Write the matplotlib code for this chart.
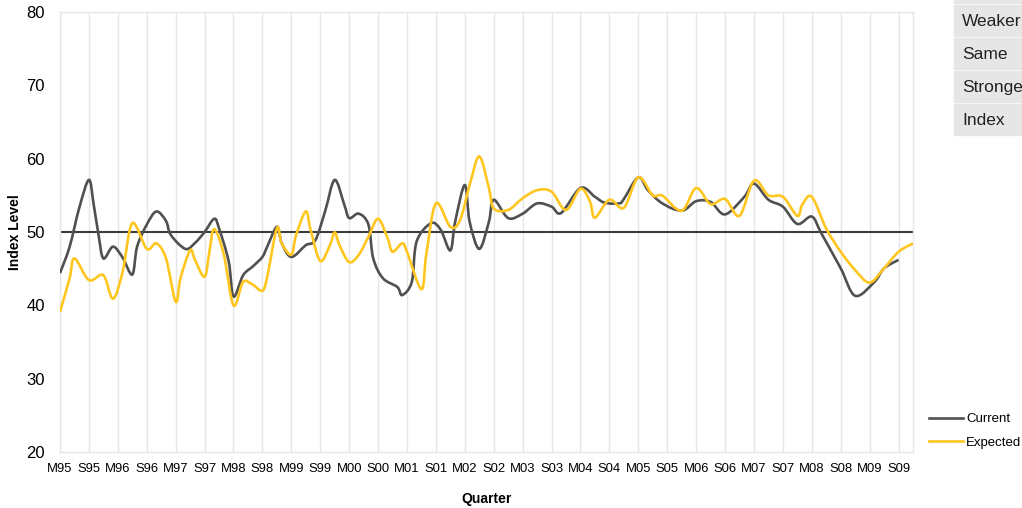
import numpy as np
import matplotlib.pyplot as plt
from matplotlib.path import Path
from matplotlib.patches import PathPatch, Rectangle
from matplotlib.lines import Line2D

# survey months, counted from March 1995
current_month = [0, 2, 4, 6, 7, 8, 9, 11, 13, 15, 16, 18, 20, 22, 23, 26, 28, 30,
                 32, 33, 35, 36, 38, 40, 42, 43, 45, 46, 48, 51, 53, 55, 57, 59,
                 60, 62, 64, 65, 67, 70, 71, 73, 74, 77, 79, 81, 82, 84, 85, 87,
                 89, 90, 93, 96, 99, 102, 104, 108, 111, 113, 116, 117, 120, 122,
                 125, 129, 132, 135, 138, 142, 144, 147, 150, 153, 156, 158, 162,
                 165, 169, 171, 174]
current_value = [44.4, 48.0, 53.3, 57.1, 53.7, 49.6, 46.4, 48.0, 46.5, 44.2, 48.0,
                 51.0, 52.8, 51.5, 49.6, 47.7, 48.5, 50.0, 51.8, 50.5, 46.0, 41.2,
                 44.1, 45.3, 46.6, 48.0, 50.7, 48.5, 46.6, 48.2, 48.9, 52.8, 57.1,
                 53.7, 51.9, 52.5, 51.0, 46.4, 43.7, 42.5, 41.4, 43.2, 48.7, 51.2,
                 50.3, 47.5, 51.4, 56.4, 51.4, 47.7, 51.4, 54.4, 51.9, 52.5, 53.9,
                 53.45, 52.6, 56.0, 54.8, 54.0, 53.9, 54.5, 57.45, 55.7, 53.9, 52.9,
                 54.2, 54.1, 52.4, 54.8, 56.6, 54.4, 53.45, 51.1, 52.1, 49.8, 45.05,
                 41.3, 43.2, 45.05, 46.2]

expected_month = [0, 2, 3, 6, 9, 11, 13, 15, 18, 20, 22, 24, 25, 27, 28, 30, 31, 32,
                  34, 36, 38, 40, 42, 43, 45, 46, 48, 49, 51, 52, 54, 56, 57, 58,
                  60, 62, 64, 66, 68, 69, 71, 72, 75, 76, 78, 81, 83, 85, 87, 89,
                  90, 93, 96, 99, 102, 105, 108, 110, 111, 114, 117, 120, 123, 125,
                  129, 132, 135, 138, 141, 144, 147, 150, 153, 154, 156, 159, 162,
                  165, 168, 171, 174, 177]
expected_value = [39.1, 43.7, 46.4, 43.45, 44.1, 40.9, 44.6, 51.2, 47.7, 48.45, 46.4,
                  40.5, 43.7, 47.5, 46.2, 43.9, 47.3, 50.4, 46.9, 40.0, 43.2, 42.8,
                  42.0, 43.9, 50.5, 48.45, 46.9, 49.6, 52.8, 50.3, 46.05, 48.2, 49.95,
                  48.2, 45.9, 46.9, 49.35, 51.8, 49.1, 47.3, 48.45, 47.3, 42.2, 46.9,
                  53.9, 50.7, 51.6, 56.4, 60.3, 56.0, 53.2, 53.0, 54.6, 55.7, 55.5,
                  53.0, 55.9, 54.1, 51.95, 54.4, 53.3, 57.45, 55.0, 54.95, 52.9, 56.0,
                  53.8, 54.5, 52.2, 57.0, 55.0, 54.8, 52.2, 53.7, 54.8, 50.45, 47.3,
                  44.8, 43.1, 45.05, 47.3, 48.45]

tick_labels = ["M95", "S95", "M96", "S96", "M97", "S97", "M98", "S98", "M99", "S99",
               "M00", "S00", "M01", "S01", "M02", "S02", "M03", "S03", "M04", "S04",
               "M05", "S05", "M06", "S06", "M07", "S07", "M08", "S08", "M09", "S09"]
table_rows = ["Weaker", "Same", "Stronger", "Index"]

grey = "#505050"
yellow = "#ffc620"
font = "Liberation Sans"


def smooth_path(xs, ys):
    # cubic bezier through every point, like a spreadsheet "smoothed line"
    pts = np.column_stack([xs, ys]).astype(float)
    n = len(pts)
    verts = [pts[0]]
    codes = [Path.MOVETO]
    for i in range(n - 1):
        p0 = pts[max(i - 1, 0)]
        p1 = pts[i]
        p2 = pts[i + 1]
        p3 = pts[min(i + 2, n - 1)]
        verts += [p1 + (p2 - p0) / 6, p2 - (p3 - p1) / 6, p2]
        codes += [Path.CURVE4] * 3
    return Path(verts, codes)


fig = plt.figure(figsize=(10.22, 5.08), dpi=100)
ax = fig.add_axes([60 / 1022, 56 / 508, 853 / 1022, 440 / 508])

ax.set_xlim(0, 177)
ax.set_ylim(20, 80)
ax.set_xticks(np.arange(len(tick_labels)) * 6)
ax.set_xticklabels(tick_labels, family=font, fontsize=9.4)
ax.set_yticks(range(20, 81, 10))
ax.tick_params(axis="y", length=0, pad=11, labelsize=12)
ax.tick_params(axis="x", length=0, pad=8)
for lab in ax.get_yticklabels():
    lab.set_family(font)
ax.grid(axis="x", color="#e6e6e6", linewidth=1)
for s in ax.spines.values():
    s.set_color("#e6e6e6")
    s.set_linewidth(1)

ax.axhline(50, color="#3c3c3c", linewidth=1.5, zorder=2)

ax.add_patch(PathPatch(smooth_path(current_month, current_value), fill=False,
                       edgecolor=grey, linewidth=1.9, zorder=3))
ax.add_patch(PathPatch(smooth_path(expected_month, expected_value), fill=False,
                       edgecolor=yellow, linewidth=1.9, zorder=4))

ax.set_xlabel("Quarter", family=font, fontweight="bold", fontsize=10, labelpad=12)
ax.set_ylabel("Index Level", family=font, fontweight="bold", fontsize=10, labelpad=3)

handles = [Line2D([], [], color=grey, linewidth=1.9),
           Line2D([], [], color=yellow, linewidth=1.9)]
ax.legend(handles, ["Current", "Expected"], loc="upper left",
          bbox_to_anchor=(929 / 1022, 1 - 413 / 508), bbox_transform=fig.transFigure,
          frameon=False, handlelength=2.6, handletextpad=0.2, labelspacing=0.85,
          borderpad=0, borderaxespad=0, prop={"family": font, "size": 9.5})

# clipped table at the top right
tab = fig.add_axes([954 / 1022, 1 - 136 / 508, 68 / 1022, 136 / 508])
tab.set_xlim(0, 68)
tab.set_ylim(136, 0)
tab.axis("off")
tab.add_patch(Rectangle((0, -28.5), 80, 31, color="#e6e6e7", clip_on=False))
for i, row in enumerate(table_rows):
    top = 4.5 + 33 * i
    tab.add_patch(Rectangle((0, top), 80, 31, color="#e6e6e7", clip_on=False))
    tab.text(8, top + 17, row, family=font, fontsize=12.5, va="center", ha="left",
             color="#222222", clip_on=False)

fig.savefig("out.png", dpi=100)
